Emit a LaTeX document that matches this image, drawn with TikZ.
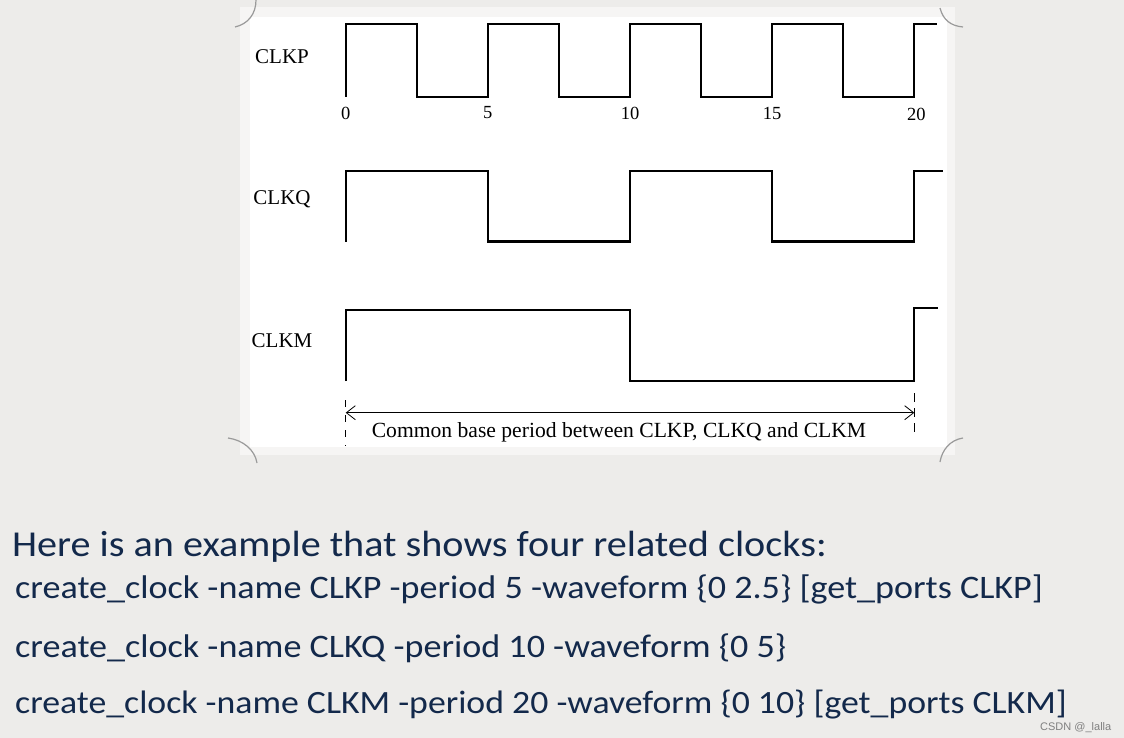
\documentclass[tikz,border=0pt]{standalone}
\usepackage{fontspec}
\setmainfont{Liberation Serif}
\newfontfamily\slidefont[FakeStretch=1.1]{Carlito}
\newfontfamily\markfont{Liberation Sans}
\usetikzlibrary{arrows.meta}
\definecolor{paperGrey}{HTML}{EDECEA}
\definecolor{frameWhite}{HTML}{F6F5F4}
\definecolor{curlGrey}{HTML}{9A9A9A}
\definecolor{slideNavy}{HTML}{13294B}
\tikzset{
  wave/.style={line width=2.2pt, line join=miter, line cap=butt},
  signame/.style={font=\fontsize{21}{21}\selectfont, inner sep=0pt},
  tick/.style={font=\fontsize{18.5}{18.5}\selectfont, inner sep=0pt},
  slideline/.style={anchor=base west, inner sep=0pt, text=slideNavy},
}
\begin{document}
\begin{tikzpicture}
% picture laid out in pixels of the slide, y pointing down
\def\px{1pt}
\def\tunit{28.43pt}
\begin{scope}[x=\px, y=-\px]
  \useasboundingbox (0,0) rectangle (1124,738);
  % Paper background
  \fill[paperGrey] (0,0) rectangle (1124,738);
  % Photo frame with curled corners
  \fill[frameWhite] (240,7) rectangle (955,455);
  \fill[white] (250,17) rectangle (947,447);
  \begin{scope}[draw=curlGrey, line width=1.2pt]
    \draw (256,0) .. controls (256,14) and (248,24) .. (235,27);
    \draw (940,8) .. controls (943,20) and (951,26) .. (963,27);
    \draw (228,438) .. controls (243,440) and (255,450) .. (257,463);
    \draw (963,438) .. controls (950,440) and (942,450) .. (940,462);
  \end{scope}
  % Signal names
  \node[signame] (nameP) at (282,57) {CLKP};
  \node[signame] (nameQ) at (282,199) {CLKQ};
  \node[signame] (nameM) at (282,341) {CLKM};
  % Waveforms, time axis in ns
  \begin{scope}[shift={(345.7,0)}, x=\tunit]
    \draw[wave] (0,96.7) -- (0,24) -- (2.5,24) -- (2.5,96.7) -- (5,96.7) -- (5,24)
      -- (7.5,24) -- (7.5,96.7) -- (10,96.7) -- (10,24) -- (12.5,24) -- (12.5,96.7)
      -- (15,96.7) -- (15,24) -- (17.5,24) -- (17.5,96.7) -- (20,96.7) -- (20,24) -- (20.8,24);
    \draw[wave] (0,241.5) -- (0,171) -- (5,171) -- (5,241.5) -- (10,241.5) -- (10,171)
      -- (15,171) -- (15,241.5) -- (20,241.5) -- (20,171) -- (21,171);
    \draw[wave] (0,381) -- (0,310) -- (10,310) -- (10,381) -- (20,381) -- (20,308) -- (20.85,308);
    % Time marks
    \node[tick] (t0) at (0,113) {0};
    \node[tick] (t5) at (5,113) {5};
    \node[tick] (t10) at (10,113) {10};
    \node[tick] (t15) at (15,113) {15};
    \node[tick] (t20) at (20.07,114) {20};
    % Common base period
    \draw[line width=0.8pt, dash pattern=on 7pt off 8pt] (0,400) -- (0,446);
    \draw[line width=0.8pt, dash pattern=on 9pt off 6pt] (20,393) -- (20,432);
    \coordinate (perStart) at (0,412.7);
    \coordinate (perEnd) at (20,412.7);
    \draw[line width=0.8pt, {Straight Barb[length=9pt,width=14pt]}-{Straight Barb[length=9pt,width=14pt]}] (perStart) -- (perEnd);
  \end{scope}
  \node[font=\fontsize{21.6}{21.6}\selectfont, inner sep=0pt] (perText) at (619,432) {Common base period between CLKP, CLKQ and CLKM};
  % Slide text
  \node[slideline, font=\slidefont\fontsize{36.5}{36.5}\selectfont] (intro) at (12,556.7) {Here is an example that shows four related clocks:};
  \node[slideline, font=\slidefont\fontsize{32.8}{32.8}\selectfont] (cmdP) at (15,598) {create\_clock -name CLKP -period 5 -waveform \{0 2.5\} [get\_ports CLKP]};
  \node[slideline, font=\slidefont\fontsize{32.8}{32.8}\selectfont] (cmdQ) at (15,657) {create\_clock -name CLKQ -period 10 -waveform \{0 5\}};
  \node[slideline, font=\slidefont\fontsize{32.5}{32.5}\selectfont] (cmdM) at (15,713) {create\_clock -name CLKM -period 20 -waveform \{0 10\} [get\_ports CLKM]};
  \node[anchor=base west, inner sep=0pt, text=gray, font=\markfont\fontsize{11}{11}\selectfont] (mark) at (1040,730) {CSDN @\_lalla};
\end{scope}
\end{tikzpicture}
\end{document}
